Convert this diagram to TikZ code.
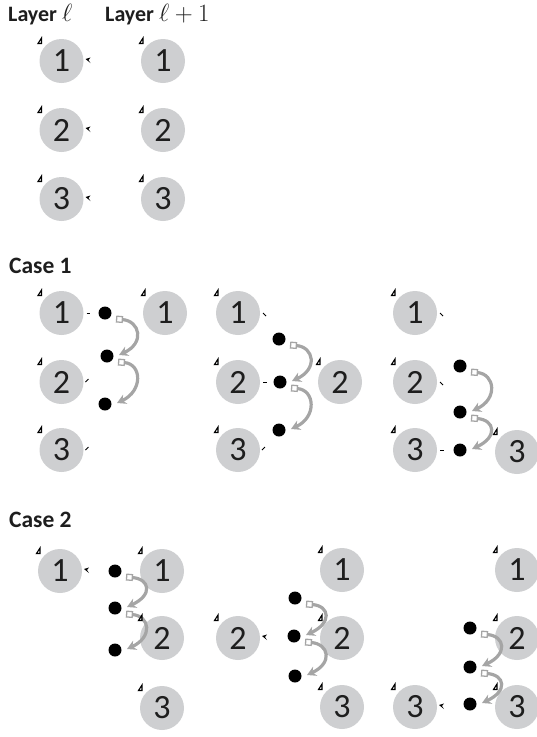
\documentclass[tikz,border=0pt]{standalone}
\usepackage[no-math]{fontspec}
\newfontfamily\calfont{Carlito}
\usetikzlibrary{arrows.meta}

\definecolor{nodegray}{RGB}{206,207,209}
\definecolor{arcgray}{RGB}{165,165,165}
\definecolor{ink}{RGB}{30,30,30}

\tikzset{
  neuron/.style={circle, fill=nodegray, minimum size=44pt, inner sep=0pt,
    font=\calfont\fontsize{34}{34}\selectfont, text=ink},
  unit/.style={circle, fill=black, minimum size=13pt, inner sep=0pt},
  heading/.style={anchor=base west, inner sep=0pt,
    font=\calfont\bfseries\fontsize{22}{22}\selectfont, text=ink},
  casehead/.style={heading, font=\calfont\bfseries\fontsize{23.5}{24}\selectfont},
  hop/.style={draw=arcgray, line width=3.2pt,
    {Square[open,length=7pt,width=7pt,line width=1.3pt]}-{Stealth[length=9pt,width=10pt]}},
  tick/.style={draw=black, line width=1pt},
  corner/.style={draw=black, line width=1.1pt, line join=miter},
}

% curved grey hop from one unit to the next one below it
\newcommand\hopto[2]{\draw[hop] ([shift={(11,6)}]#1.center)
  .. controls +(24,2) and +(26,-12) .. ([shift={(12,-1)}]#2.center);}
% small marker at the upper left of a neuron
\newcommand\cornermark[1]{\draw[corner] ([shift={(-23.5,-17.5)}]#1.center)
  -- ++(3.5,-5.5) -- ++(0,5.5) -- cycle;}
% short stubs at the right side of a neuron
\newcommand\dashmark[1]{\draw[tick] ([shift={(25,0)}]#1.center) -- ++(3.5,0);}
\newcommand\slashmark[1]{\draw[tick] ([shift={(24,0)}]#1.center) -- ++(3,-3);}
\newcommand\backmark[1]{\draw[tick] ([shift={(25,0)}]#1.center) -- ++(3,3);}
\newcommand\tipmark[1]{\fill[black] ([shift={(24,-2)}]#1.center) -- ++(5,-1.5)
  -- ++(-2,2.5) -- ++(2,3) -- cycle;}

\begin{document}
\begin{tikzpicture}[x=1pt, y=-1pt]
\useasboundingbox (0,0) rectangle (537,737);

% ---------------- layers ----------------
\node[heading] (hL)  at (8,21)   {Layer {\fontsize{24}{24}\selectfont$\ell$}};
\node[heading] (hL1) at (105,21) {Layer {\fontsize{24}{24}\selectfont$\ell+1$}};

\node[neuron] (a1) at (61.5,61)  {1};
\node[neuron] (a2) at (61.5,130) {2};
\node[neuron] (a3) at (61.5,199) {3};
\node[neuron] (b1) at (163,61)   {1};
\node[neuron] (b2) at (163,130)  {2};
\node[neuron] (b3) at (163,199)  {3};
\foreach \n in {a1,a2,a3,b1,b2,b3} {\cornermark{\n}}
\foreach \n in {a1,a2,a3} {\tipmark{\n}}

% ---------------- case 1 ----------------
\node[casehead] (c1) at (9,273) {Case 1};

% first configuration
\node[neuron] (p1) at (61.5,313) {1};
\node[neuron] (p2) at (61.5,382) {2};
\node[neuron] (p3) at (61.5,450) {3};
\node[neuron] (q1) at (165,313)  {1};
\node[unit] (pu1) at (105,313) {};
\node[unit] (pu2) at (107,356) {};
\node[unit] (pu3) at (105,404) {};
\dashmark{p1}\slashmark{p2}\slashmark{p3}
\hopto{pu1}{pu2}\hopto{pu2}{pu3}
\foreach \n in {p1,p2,p3,q1} {\cornermark{\n}}

% second configuration
\node[neuron] (r1) at (238,313) {1};
\node[neuron] (r2) at (238,382) {2};
\node[neuron] (r3) at (238,450) {3};
\node[neuron] (s2) at (340,382) {2};
\node[unit] (ru1) at (279,339) {};
\node[unit] (ru2) at (280,382) {};
\node[unit] (ru3) at (279,430) {};
\backmark{r1}\dashmark{r2}\slashmark{r3}
\hopto{ru1}{ru2}\hopto{ru2}{ru3}
\foreach \n in {r1,r2,r3,s2} {\cornermark{\n}}

% third configuration
\node[neuron] (t1) at (415,313) {1};
\node[neuron] (t2) at (415,382) {2};
\node[neuron] (t3) at (415,450) {3};
\node[neuron] (v3) at (517,452) {3};
\node[unit] (tu1) at (460,366) {};
\node[unit] (tu2) at (460,412) {};
\node[unit] (tu3) at (460,450) {};
\backmark{t1}\backmark{t2}\dashmark{t3}
\hopto{tu1}{tu2}\hopto{tu2}{tu3}
\foreach \n in {t1,t2,t3,v3} {\cornermark{\n}}

% ---------------- case 2 ----------------
\node[casehead] (c2) at (9,527) {Case 2};

% first configuration
\node[neuron] (e1) at (60,571)  {1};
\node[neuron] (f1) at (162,571) {1};
\node[neuron] (f2) at (162,638) {2};
\node[neuron] (f3) at (162,708) {3};
\node[unit] (eu1) at (115,571) {};
\node[unit] (eu2) at (115,608) {};
\node[unit] (eu3) at (115,650) {};
\tipmark{e1}
\hopto{eu1}{eu2}\hopto{eu2}{eu3}
\foreach \n in {e1,f1,f2,f3} {\cornermark{\n}}

% second configuration
\node[neuron] (g2) at (238,638) {2};
\node[neuron] (h1) at (342,570) {1};
\node[neuron] (h2) at (342,638) {2};
\node[neuron] (h3) at (342,707) {3};
\node[unit] (gu1) at (295,598) {};
\node[unit] (gu2) at (294,636) {};
\node[unit] (gu3) at (295,676) {};
\tipmark{g2}
\hopto{gu1}{gu2}\hopto{gu2}{gu3}
\foreach \n in {g2,h1,h2,h3} {\cornermark{\n}}

% third configuration
\node[neuron] (k3) at (415,707) {3};
\node[neuron] (m1) at (517,570) {1};
\node[neuron] (m2) at (517,638) {2};
\node[neuron] (m3) at (517,707) {3};
\node[unit] (ku1) at (470,628) {};
\node[unit] (ku2) at (470,667) {};
\node[unit] (ku3) at (470,704) {};
\tipmark{k3}
\hopto{ku1}{ku2}\hopto{ku2}{ku3}
\foreach \n in {k3,m1,m2,m3} {\cornermark{\n}}
\end{tikzpicture}
\end{document}
